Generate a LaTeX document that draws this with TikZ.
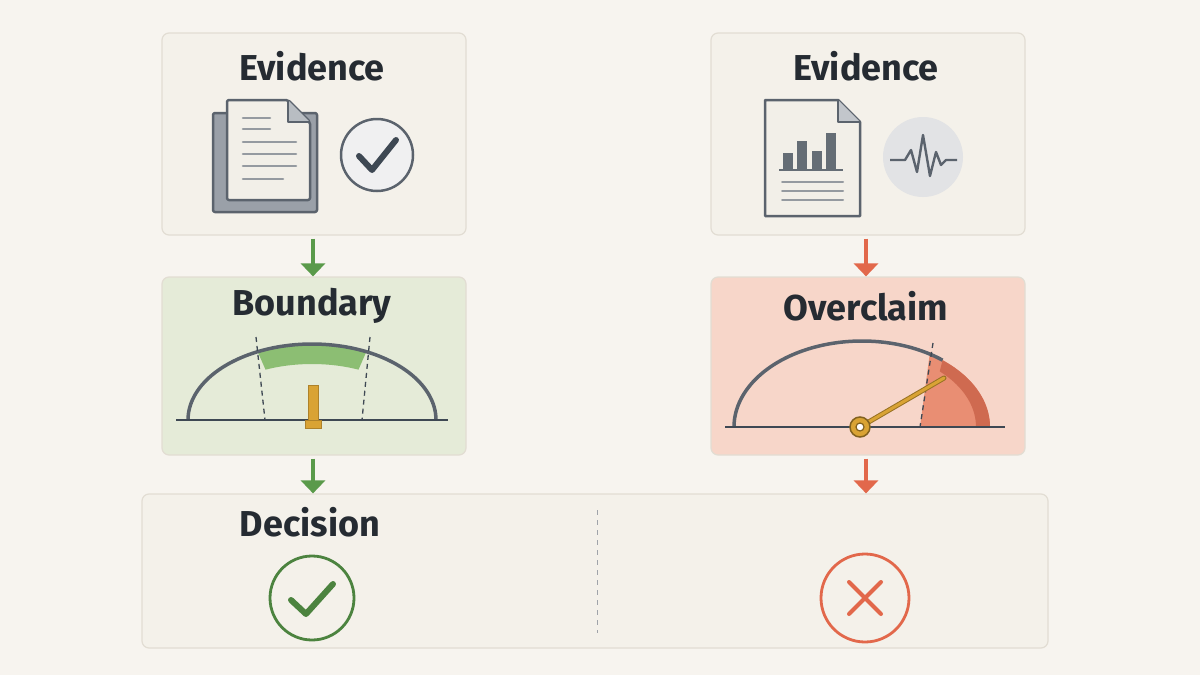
\documentclass[tikz,border=0pt]{standalone}
\usepackage{fontspec}
\setmainfont{Fira Sans}
\usetikzlibrary{arrows.meta,positioning}

\definecolor{paper}{HTML}{F7F4EF}
\definecolor{card}{HTML}{F4F1EA}
\definecolor{cardline}{HTML}{E2DDD3}
\definecolor{slate}{HTML}{3E4853}
\definecolor{okgreen}{HTML}{5A9A4A}
\definecolor{okfill}{HTML}{E5EBD8}
\definecolor{band}{HTML}{8CBE73}
\definecolor{warnred}{HTML}{E2684B}
\definecolor{warnfill}{HTML}{F7D6C9}
\definecolor{wedge}{HTML}{E98E73}
\definecolor{wedgedark}{HTML}{CF6A50}
\definecolor{gold}{HTML}{D9A334}
\definecolor{sheet}{HTML}{F2EFE8}
\definecolor{sheetback}{HTML}{9AA0A8}

\tikzset{
  card/.style={draw=cardline, line width=1.2pt, rounded corners=7pt, fill=card, inner sep=0pt},
  title/.style={font=\fontsize{36}{40}\selectfont\bfseries, text=slate!60!black},
  flow/.style={-{Triangle[width=24pt,length=13pt]}, line width=4pt},
  icon/.style={draw=slate!85, line width=2.5pt, line join=round},
  txtline/.style={draw=slate!55, line width=2.6pt, line cap=round}
}

\begin{document}
\begin{tikzpicture}[x=1pt,y=-1pt]
  \fill[paper] (0,0) rectangle (1200,675);
  \useasboundingbox (0,0) rectangle (1200,675);

  % Karten
  \node[card, minimum width=304pt, minimum height=202pt] (evL) at (314,134) {};
  \node[card, minimum width=314pt, minimum height=202pt] (evR) at (868,134) {};
  \node[card, fill=okfill, minimum width=304pt, minimum height=178pt] (bound) at (314,366) {};
  \node[card, fill=warnfill, minimum width=314pt, minimum height=178pt] (over) at (868,366) {};
  \node[card, minimum width=906pt, minimum height=154pt] (dec) at (595,571) {};

  % Titel
  \node[title] (tEvL) at (312,66) {Evidence};
  \node[title] (tEvR) at (866,66) {Evidence};
  \node[title] (tBound) at (312,306) {Boundary};
  \node[title] (tOver) at (866,306) {Overclaim};
  \node[title] (tDec) at (310,522) {Decision};

  % Pfeile
  \draw[flow, okgreen] (evL.south -| 313,0) ++(0,3) coordinate (a1) -- (bound.north -| a1);
  \draw[flow, okgreen] (bound.south -| 313,0) ++(0,3) coordinate (a2) -- (dec.north -| a2);
  \draw[flow, warnred] (evR.south -| 866,0) ++(0,3) coordinate (a3) -- (over.north -| a3);
  \draw[flow, warnred] (over.south -| 866,0) ++(0,3) coordinate (a4) -- (dec.north -| a4);

  % Dokumente links
  \draw[icon, fill=sheetback, rounded corners=2pt] (213,113) rectangle (317,212);
  \draw[icon, fill=sheet, rounded corners=2pt] (227,100) -- (288,100) -- (310,122) -- (310,200) -- (227,200) -- cycle;
  \draw[icon, fill=sheetback!70, line width=1.8pt] (288,100) -- (288,122) -- (310,122);
  \foreach \y/\w in {118/270, 129/270, 142/296, 154/296, 166/296, 179/283}
    \draw[txtline] (243,\y) -- (\w,\y);
  \draw[icon, fill=slate!8] (377,155) circle (36);
  \draw[slate, line width=6pt, line cap=round, line join=round] (359,156) -- (372,170) -- (396,140);

  % Dokument rechts
  \draw[icon, fill=sheet] (765,100) -- (838,100) -- (860,122) -- (860,216) -- (765,216) -- cycle;
  \draw[icon, fill=sheetback!60, line width=1.8pt] (838,100) -- (838,122) -- (860,122);
  \foreach \x/\h in {783/153, 797/141, 812/151, 826/133}
    \fill[slate!80] (\x,\h) rectangle ++(10,170-\h);
  \draw[slate!80, line width=2pt] (779,170) -- (843,170);
  \foreach \y in {182,191,200}
    \draw[txtline, line width=2pt] (782,\y) -- (843,\y);
  \fill[slate!15] (923,157) circle (40);
  \draw[slate!85, line width=2.4pt, line join=round] (890,160) -- (905,160) -- (911,150) -- (917,172) -- (923,135) -- (930,176) -- (936,152) -- (941,165) -- (946,160) -- (957,160);

  % Skala Boundary
  \fill[band] plot[domain=116:64, samples=30] ({312+124*cos(\x)},{420-76*sin(\x)})
    -- plot[domain=64:116, samples=30] ({312+106*cos(\x)},{420-56*sin(\x)}) -- cycle;
  \draw[slate!85, line width=3.5pt] plot[domain=180:0, samples=80] ({312+124*cos(\x)},{420-76*sin(\x)});
  \draw[slate, line width=1.8pt] (176,420) -- (448,420);
  \draw[slate, line width=1.3pt, dash pattern=on 5pt off 4pt] (256,337) -- (265,420);
  \draw[slate, line width=1.3pt, dash pattern=on 5pt off 4pt] (370,337) -- (362,420);
  \draw[gold!80!black, fill=gold, line width=1pt] (308,385) rectangle (318,420);
  \draw[gold!80!black, fill=gold, line width=1pt] (305,420) rectangle (321,428);

  % Skala Overclaim
  \fill[wedge] (920,427) -- (930,352) -- plot[domain=51:0, samples=30] ({862+128*cos(\x)},{427-86*sin(\x)}) -- cycle;
  \fill[wedgedark] plot[domain=51:0, samples=30] ({862+128*cos(\x)},{427-86*sin(\x)})
    -- plot[domain=0:47, samples=30] ({862+114*cos(\x)},{427-76*sin(\x)}) -- cycle;
  \draw[slate!85, line width=3.5pt] plot[domain=180:51, samples=80] ({862+128*cos(\x)},{427-86*sin(\x)});
  \draw[slate, line width=1.3pt, dash pattern=on 5pt off 4pt] (933,343) -- (920,427);
  \draw[slate, line width=1.8pt] (725,427) -- (1005,427);
  \draw[gold!70!black, line width=5pt, line cap=round] (860,427) -- (944,378);
  \draw[gold, line width=3pt, line cap=round] (860,427) -- (944,378);
  \draw[gold!60!black, fill=gold, line width=1.5pt] (860,427) circle (10);
  \draw[gold!60!black, fill=white, line width=1.2pt] (860,427) circle (4);

  % Entscheidung
  \draw[slate!50, line width=1pt, dash pattern=on 5pt off 5pt] (597,510) -- (597,633);
  \draw[okgreen!85!black, line width=2.8pt] (312,598) circle (42);
  \draw[okgreen!85!black, line width=6pt, line cap=round, line join=round] (291,600) -- (306,614) -- (333,584);
  \draw[warnred, line width=2.8pt] (865,598) circle (44);
  \draw[warnred, line width=4pt, line cap=round] (849,582) -- (881,614);
  \draw[warnred, line width=4pt, line cap=round] (881,582) -- (849,614);
\end{tikzpicture}
\end{document}
